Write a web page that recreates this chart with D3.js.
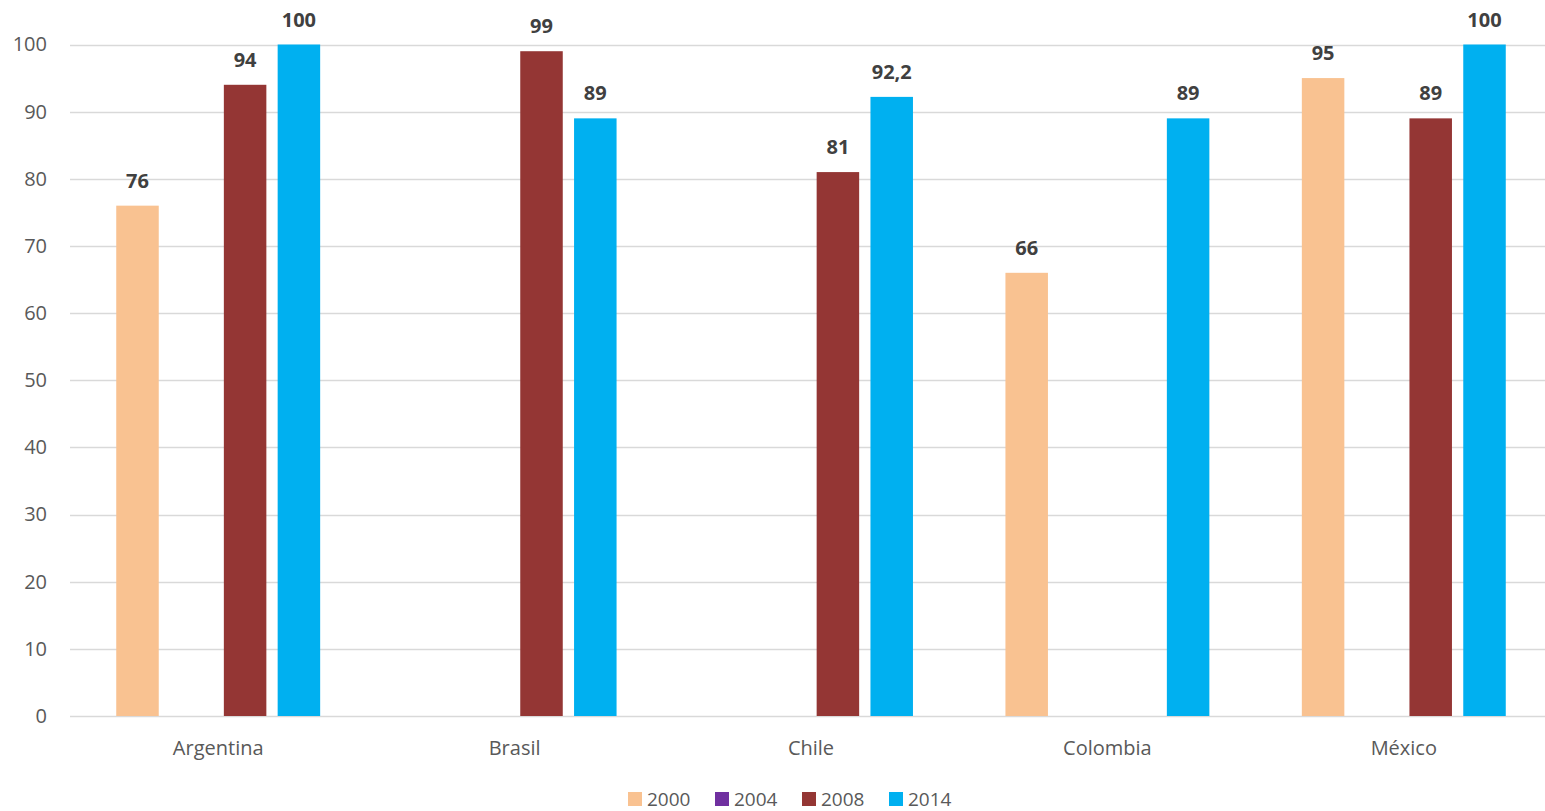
<!DOCTYPE html>
<html><head><meta charset="utf-8">
<script src="https://cdn.jsdelivr.net/npm/d3@7"></script>
<style>
html,body{margin:0;padding:0;background:#fff;}
text{font-family:"Open Sans",sans-serif;}
</style></head>
<body>
<svg id="chart" width="1545" height="811"></svg>
<script>
const categories = ["Argentina","Brasil","Chile","Colombia","México"];
const seriesNames = ["2000","2004","2008","2014"];
const seriesColors = ["#F9C291","#7030A0","#943634","#00B0F0"];
const values2000 = [76, null, null, 66, 95];
const values2004 = [null, null, null, null, null];
const values2008 = [94, 99, 81, null, 89];
const values2014 = [100, 89, 92.2, 89, 100];
const yTicks = [0,10,20,30,40,50,60,70,80,90,100];

const seriesValues = [values2000, values2004, values2008, values2014];
const svg = d3.select("#chart");
const W = 1545, H = 811;
const plotLeft = 70, plotRight = 1552, plotTop = 44.5, plotBottom = 716;

const x0 = d3.scaleBand().domain(categories).range([plotLeft, plotRight]).paddingInner(0.312).paddingOuter(0.156);
const x1 = d3.scaleBand().domain(seriesNames).range([0, x0.bandwidth()]).paddingInner(0.21).paddingOuter(0);
const y = d3.scaleLinear().domain([0,100]).range([plotBottom, plotTop]);

// gridlines
svg.append("g").selectAll("line").data(yTicks).join("line")
  .attr("x1", plotLeft).attr("x2", W)
  .attr("y1", d => Math.round(y(d))+0.5).attr("y2", d => Math.round(y(d))+0.5)
  .attr("stroke", "#d9d9d9").attr("stroke-width", 1.3);

// y tick labels
const yAxis = d3.axisLeft(y).tickValues(yTicks).tickSize(0).tickPadding(0).tickFormat(d3.format("d"));
const ga = svg.append("g").attr("transform", `translate(47,0)`).call(yAxis);
ga.select(".domain").remove();
ga.selectAll("text").attr("font-size", 20).attr("fill", "#595959").attr("font-family", '"Open Sans",sans-serif');

// x labels
const xAxis = d3.axisBottom(x0).tickSize(0).tickPadding(0);
const gx = svg.append("g").attr("transform", `translate(0,${plotBottom})`).call(xAxis);
gx.select(".domain").remove();
gx.selectAll("text").attr("font-size", 20).attr("fill", "#595959").attr("font-family", '"Open Sans",sans-serif')
  .attr("dy", null).attr("y", 39);

// bars
const fmt = v => String(v).replace(".", ",");
const groups = svg.append("g").selectAll("g").data(categories).join("g")
  .attr("transform", c => `translate(${x0(c)},0)`);
groups.each(function(c, ci){
  const g = d3.select(this);
  const items = seriesNames.map((s, si) => ({s, si, v: seriesValues[si][ci]})).filter(d => d.v != null);
  g.selectAll("rect").data(items).join("rect")
    .attr("x", d => x1(d.s)).attr("width", x1.bandwidth())
    .attr("y", d => y(d.v)).attr("height", d => y(0) - y(d.v))
    .attr("fill", d => seriesColors[d.si]);
  g.selectAll("text").data(items).join("text")
    .attr("x", d => x1(d.s) + x1.bandwidth()/2)
    .attr("y", d => y(d.v) - 18)
    .attr("text-anchor", "middle").attr("font-size", 20).attr("font-weight", "bold")
    .attr("fill", "#404040").text(d => fmt(d.v));
});

// legend
const legend = svg.append("g").attr("transform", "translate(628,792)");
const li = legend.selectAll("g").data(seriesNames).join("g")
  .attr("transform", (d,i) => `translate(${i*87},0)`);
li.append("rect").attr("width", 14).attr("height", 14).attr("fill", (d,i) => seriesColors[i]);
li.append("text").attr("x", 19).attr("y", 14).attr("font-size", 19).attr("fill", "#595959").text(d => d);
</script>
</body></html>
